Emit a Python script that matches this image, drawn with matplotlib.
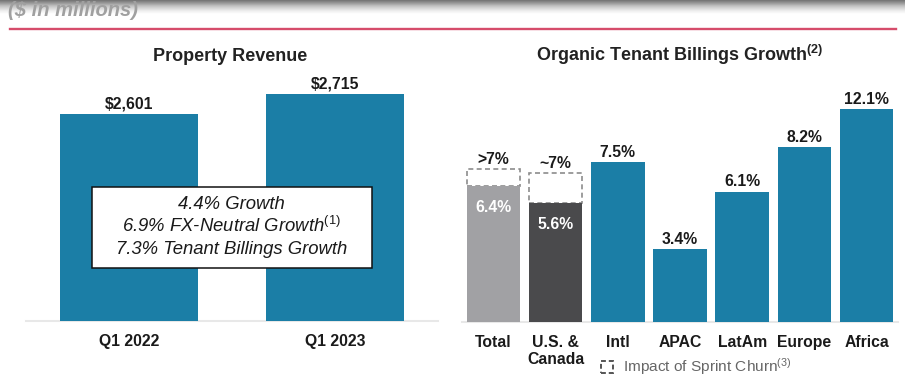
import numpy as np
import matplotlib
matplotlib.use("Agg")
import matplotlib.pyplot as plt
from matplotlib.patches import Rectangle
from matplotlib.lines import Line2D

plt.rcParams['font.family'] = ['Liberation Sans', 'DejaVu Sans']
plt.rcParams['mathtext.fontset'] = 'custom'
plt.rcParams['mathtext.rm'] = 'Liberation Sans'
plt.rcParams['mathtext.it'] = 'Liberation Sans:italic'
plt.rcParams['mathtext.bf'] = 'Liberation Sans:bold'
plt.rcParams['mathtext.default'] = 'rm'

# ---------------- data ----------------
rev_categories = ["Q1 2022", "Q1 2023"]
rev_values = [2601, 2715]
rev_labels = ["$2,601", "$2,715"]

growth_categories = ["Total", "U.S. &\nCanada", "Intl", "APAC", "LatAm", "Europe", "Africa"]
growth_values = [6.4, 5.6, 7.5, 3.4, 6.1, 8.2, 12.1]
growth_labels = ["6.4%", "5.6%", "7.5%", "3.4%", "6.1%", "8.2%", "12.1%"]
sprint_adjusted = [7.2, 7.0]          # dashed "ex Sprint churn" tops for Total, U.S. & Canada
sprint_labels = [">7%", "~7%"]
display_cap = 10.0                    # reference chart truncates the tallest bar

box_lines = ["4.4% Growth", "6.9% FX-Neutral Growth$^{(1)}$", "7.3% Tenant Billings Growth"]

# ---------------- style ----------------
TEAL = "#1b7ea6"
GRAY = "#a1a1a4"
DARK = "#4a4a4c"
TXT = "#1a1a1a"

W, H = 905, 378
fig = plt.figure(figsize=(W / 100, H / 100), dpi=100)

def fx(px):
    return px / W

def fy(py):
    return 1 - py / H

# top shadow gradient
gax = fig.add_axes([0, fy(14), 1, 14 / H])
grad = np.linspace(0, 1, 50).reshape(-1, 1)
gax.imshow(grad, aspect='auto', cmap='Greys_r', vmin=-0.6, vmax=1.0, extent=[0, 1, 0, 1])
gax.set_axis_off()

fig.text(fx(8), fy(15.5), "($ in millions)", fontsize=14.5, fontweight='bold', fontstyle='italic',
         color="#a0a0a0", ha='left', va='baseline', zorder=5)
fig.add_artist(Line2D([fx(10), fx(896)], [fy(28.5), fy(28.5)], color="#d64c6b", lw=1.7))

# ---------------- left chart ----------------
axL = fig.add_axes([fx(26), fy(321), fx(437.7 - 26), 241 / H])
xL = np.arange(len(rev_categories))
axL.bar(xL, rev_values, width=0.67, color=TEAL, zorder=3)
axL.set_xlim(-0.5, 1.5)
axL.set_ylim(1423, 2797)
for x, v, lab in zip(xL, rev_values, rev_labels):
    axL.annotate(lab, (x, v), xytext=(0, 4.5), textcoords='offset points', ha='center',
                 va='baseline', fontsize=11.3, fontweight='bold', color=TXT)
axL.set_xticks(xL, rev_categories, fontsize=11.3, fontweight='bold', color=TXT)

# ---------------- right chart ----------------
axR = fig.add_axes([fx(462.3), fy(321.7), fx(897.7 - 462.3), 231.7 / H])
xR = np.arange(len(growth_categories))
shown = np.minimum(growth_values, display_cap)
colors = [GRAY, DARK] + [TEAL] * (len(growth_categories) - 2)
for i, (s, a) in enumerate(zip(growth_values[:2], sprint_adjusted)):
    axR.bar(xR[i], a - s, bottom=s, width=0.86, facecolor='white', edgecolor="#8c8c8c",
            linestyle=(0, (3, 2)), linewidth=1.2, zorder=2)
axR.bar(xR, shown, width=0.86, color=colors, zorder=3)
axR.set_xlim(-0.5, 6.5)
axR.set_ylim(0, 10.9)
for i, (v, lab) in enumerate(zip(shown, growth_labels)):
    if i < 2:
        axR.annotate(lab, (xR[i], v), xytext=(0, -15.6), textcoords='offset points', ha='center',
                     va='center', fontsize=11.3, fontweight='bold', color='white', zorder=5)
    else:
        axR.annotate(lab, (xR[i], v), xytext=(0, 4), textcoords='offset points', ha='center',
                     va='baseline', fontsize=11.3, fontweight='bold', color=TXT)
for i, (a, lab) in enumerate(zip(sprint_adjusted, sprint_labels)):
    axR.annotate(lab, (xR[i], a), xytext=(0, 3.6), textcoords='offset points', ha='center',
                 va='baseline', fontsize=11.3, fontweight='bold', color=TXT)
axR.set_xticks(xR, growth_categories, fontsize=11.3, fontweight='bold', color=TXT)

for ax in (axL, axR):
    for sp in ("top", "left", "right"):
        ax.spines[sp].set_visible(False)
    ax.spines["bottom"].set_color("#e8e8e8")
    ax.spines["bottom"].set_linewidth(1.5)
    ax.spines["bottom"].set_zorder(1)
    ax.set_yticks([])
    ax.tick_params(axis='x', length=0, pad=9.5)
    ax.set_facecolor('none')

# ---------------- titles ----------------
fig.text(fx(230.5), fy(61), "Property Revenue", fontsize=13, fontweight='bold', color="#222222",
         ha='center', va='baseline')
fig.text(fx(680), fy(61), r"Organic Tenant Billings Growth$^{\mathbf{(2)}}$", fontsize=13,
         fontweight='bold', color="#222222", ha='center', va='baseline')

# ---------------- annotation box ----------------
fig.add_artist(Rectangle((fx(91.7), fy(268.3)), fx(280), 81 / H, transform=fig.transFigure,
                         facecolor='white', edgecolor='#111111', lw=1.1, zorder=6))
for k, line in enumerate(box_lines):
    fig.text(fx(231.7), fy(209.3 + 22.3 * k), line, fontsize=13.3, fontstyle='italic',
             color=TXT, ha='center', va='baseline', zorder=7)

# ---------------- legend ----------------
fig.add_artist(Rectangle((fx(601), fy(373)), fx(12), 12 / H, transform=fig.transFigure,
                         facecolor='none', edgecolor='#555555', lw=1.4, linestyle=(0, (2.5, 1.5))))
fig.text(fx(623), fy(372), "Impact of Sprint Churn$^{(3)}$", fontsize=11.1, color="#666666",
         ha='left', va='baseline')

fig.savefig("out.png", dpi=100)
